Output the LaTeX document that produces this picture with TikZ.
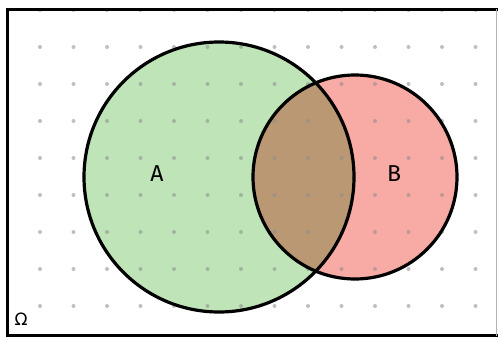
\documentclass[tikz,border=0pt]{standalone}
\usepackage{fontspec}
\setmainfont{Fira Sans}
\newfontfamily\symfont{DejaVu Sans}
\definecolor{agreen}{RGB}{190,228,183}
\definecolor{bred}{RGB}{248,170,164}
\definecolor{abmix}{RGB}{187,152,116}
\definecolor{dotgray}{RGB}{140,140,140}
\begin{document}
\begin{tikzpicture}[x=1pt,y=-1pt,
  setline/.style={line width=3.2pt,draw=black},
  lbl/.style={font=\fontsize{23}{23}\selectfont,inner sep=0pt}]
\useasboundingbox (0,0) rectangle (498,338);
\fill[white] (0,0) rectangle (498,338);
% fills
\fill[agreen] (219,177) circle (135);
\fill[bred] (355,177) circle (102);
\begin{scope}
  \clip (219,177) circle (135);
  \fill[abmix] (355,177) circle (102);
\end{scope}
% dots
\foreach \i in {0,...,13} {
  \foreach \j in {0,...,8} {
    \fill[dotgray,opacity=0.55] ({40+33.5*\i},{10+37*\j}) circle (2);
  }
}
% outlines
\draw[setline] (219,177) circle (135);
\draw[setline] (355,177) circle (102);
% frame
\draw[line width=3pt,line cap=rect] (497,9) -- (7.5,9) -- (7.5,335.5) -- (497,335.5);
\draw[line width=1pt,draw=gray!60] (496.5,9) -- (496.5,335.5);
% labels
\node[lbl] (A) at (157,174) {A};
\node[lbl] (B) at (394,174) {B};
\node[inner sep=0pt,font=\symfont\fontsize{17}{17}\selectfont] (omega) at (21,319) {Ω};
\end{tikzpicture}
\end{document}
